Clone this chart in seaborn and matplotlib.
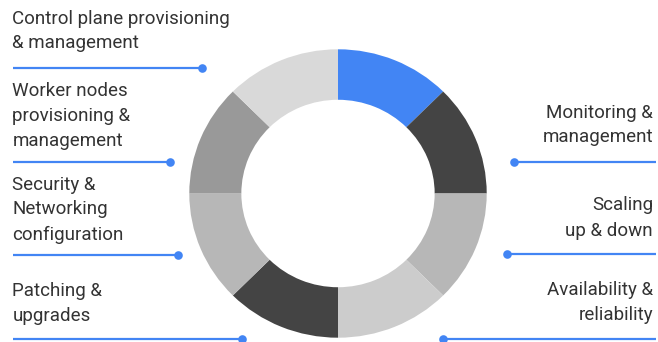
import matplotlib
matplotlib.use("Agg")
import matplotlib.pyplot as plt
import seaborn as sns

# ---- data ----
segment_values = [1, 1, 1, 1, 1, 1, 1, 1]
segment_colors = ["#4285f4", "#444444", "#b7b7b7", "#cccccc",
                  "#444444", "#b7b7b7", "#999999", "#d9d9d9"]
left_labels = ["Control plane provisioning\n& management",
               "Worker nodes\nprovisioning &\nmanagement",
               "Security &\nNetworking\nconfiguration",
               "Patching &\nupgrades"]
right_labels = ["Monitoring &\nmanagement",
                "Scaling\nup & down",
                "Availability &\nreliability"]

# ---- layout (pixels) ----
W, H = 658, 342
left_baselines = [23.5, 96, 189.5, 296.3]
left_rule_y = [68.3, 162.3, 255, 339.3]
left_dot_x = [201.7, 170, 177.7, 241.7]
right_baselines = [117.5, 210.5, 295.3]
right_rule_y = [161.7, 254, 339.3]
right_dot_x = [514.3, 506.7, 442.7]
line_step = 25.0

sns.set_theme(style="white")
plt.rcParams["font.family"] = ["Roboto", "DejaVu Sans"]

BLUE = "#4285f4"
TEXT = "#333333"
FS = 13.5

fig = plt.figure(figsize=(W / 100, H / 100), dpi=100)
ax = fig.add_axes([0, 0, 1, 1])
ax.set_xlim(0, W)
ax.set_ylim(H, 0)
ax.axis("off")

# donut in its own axes (slightly elliptical like the reference)
x0, x1, y0, y1 = 189.3, 486.7, 49.3, 337.7
pax = fig.add_axes([x0 / W, 1 - y1 / H, (x1 - x0) / W, (y1 - y0) / H])
pax.pie(segment_values, colors=segment_colors, startangle=90, counterclock=False,
        radius=1, wedgeprops=dict(width=0.35, linewidth=0), frame=True)
pax.set_aspect("auto")
pax.set_xlim(-1, 1)
pax.set_ylim(-1, 1)
pax.axis("off")

for lab, b, ry, dx in zip(left_labels, left_baselines, left_rule_y, left_dot_x):
    for i, line in enumerate(lab.split("\n")):
        ax.text(12.5, b + i * line_step, line, fontsize=FS, color=TEXT,
                ha="left", va="baseline")
    ax.plot([12.5, dx], [ry, ry], color=BLUE, lw=1.6, solid_capstyle="butt")
    ax.plot([dx], [ry], "o", color=BLUE, ms=6.2, mew=0)

for lab, b, ry, dx in zip(right_labels, right_baselines, right_rule_y, right_dot_x):
    for i, line in enumerate(lab.split("\n")):
        ax.text(653, b + i * line_step, line, fontsize=FS, color=TEXT,
                ha="right", va="baseline")
    ax.plot([dx, 656], [ry, ry], color=BLUE, lw=1.6, solid_capstyle="butt")
    ax.plot([dx], [ry], "o", color=BLUE, ms=6.2, mew=0)

fig.savefig("out.png", dpi=100)
